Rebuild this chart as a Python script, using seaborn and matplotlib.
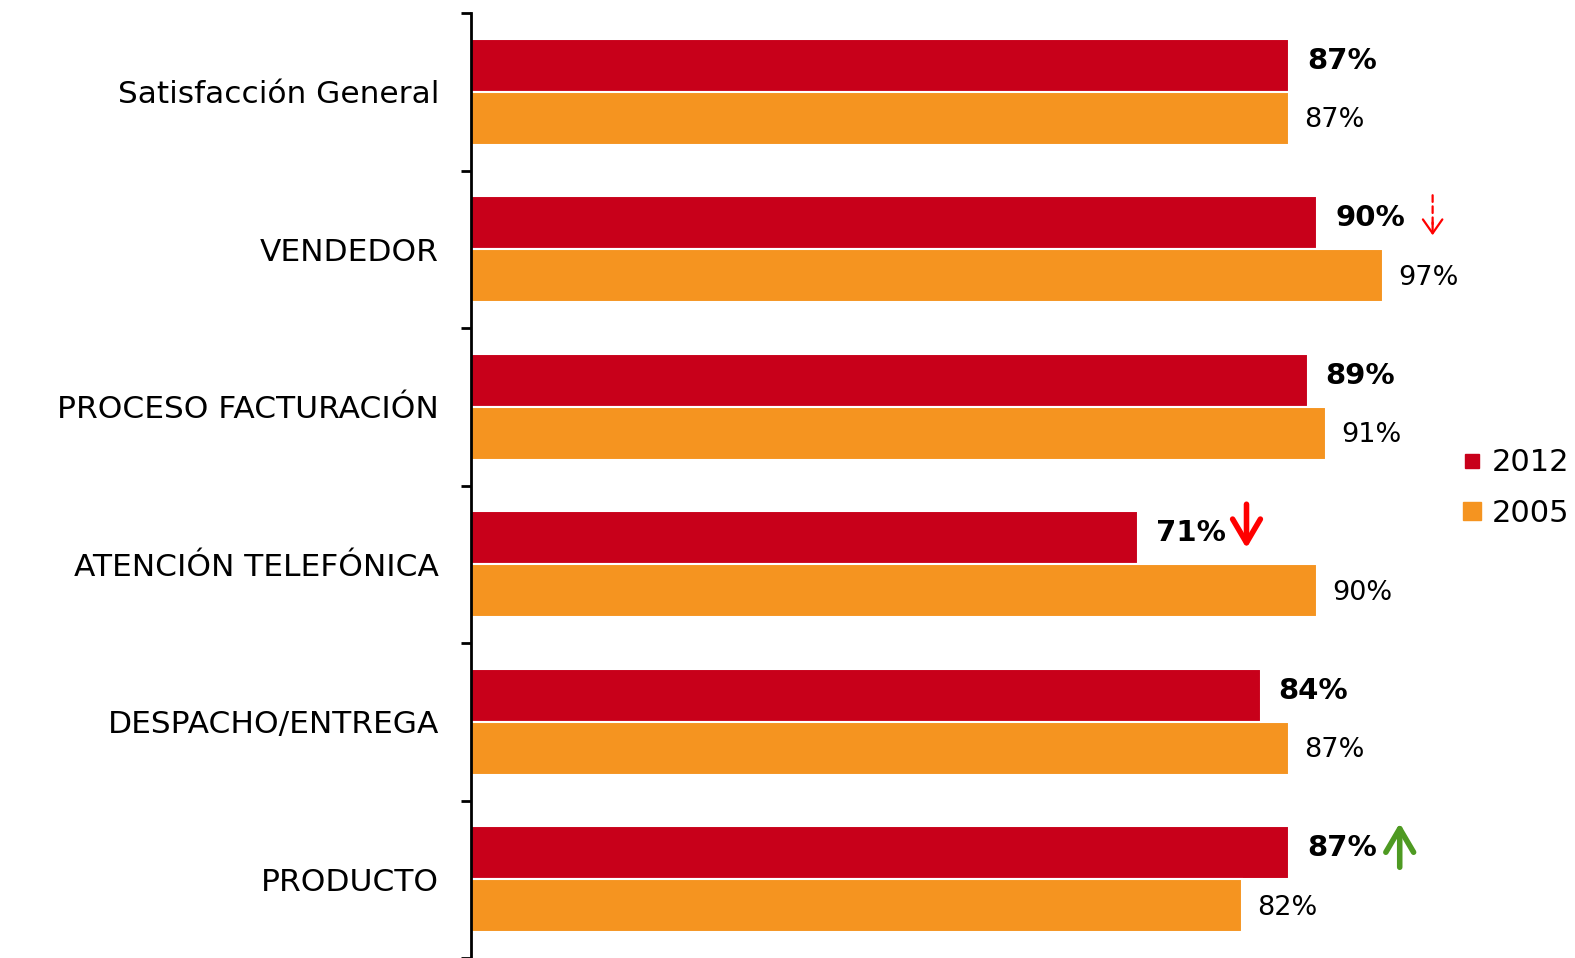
import matplotlib
matplotlib.use("Agg")
import matplotlib.pyplot as plt
from matplotlib.lines import Line2D
import seaborn as sns
import pandas as pd

categories = ["Satisfacción General", "VENDEDOR", "PROCESO FACTURACIÓN",
              "ATENCIÓN TELEFÓNICA", "DESPACHO/ENTREGA", "PRODUCTO"]
years = ["2012", "2005"]
values_2012 = [87, 90, 89, 71, 84, 87]
values_2005 = [87, 97, 91, 90, 87, 82]

RED = "#C8001A"
ORANGE = "#F59420"

df = pd.DataFrame({
    "category": categories * 2,
    "year": [years[0]] * len(categories) + [years[1]] * len(categories),
    "value": values_2012 + values_2005,
})

sns.set_theme(style="white")
plt.rcParams["font.family"] = ["DejaVu Sans"]

W, H = 1575, 958
fig = plt.figure(figsize=(W / 100, H / 100), dpi=100)
ax = fig.add_axes([471 / W, 0.0, (1411 - 471) / W, 1 - 13 / H])

sns.barplot(data=df, y="category", x="value", hue="year", orient="h",
            order=categories, hue_order=years, palette=[RED, ORANGE],
            saturation=1, width=0.67, edgecolor="white", linewidth=1.5,
            errorbar=None, legend=False, ax=ax)

ax.set_xlim(0, 100)
ax.set_ylim(len(categories) - 0.5, -0.5)
ax.set_xlabel("")
ax.set_ylabel("")
ax.set_xticks([])

# category labels at the centres, tick marks at the group boundaries
ax.tick_params(axis="y", which="major", length=0, pad=23, labelsize=22.5,
               labelcolor="black")
ax.set_yticks([i - 0.5 for i in range(len(categories) + 1)], minor=True)
ax.tick_params(axis="y", which="minor", length=7.5, width=2, color="black",
               direction="out", left=True)

for side in ["top", "right", "bottom"]:
    ax.spines[side].set_visible(False)
ax.spines["left"].set_color("black")
ax.spines["left"].set_linewidth(2)

# value labels: 2012 bold, 2005 regular
for bar in ax.containers[0]:
    w = bar.get_width()
    yc = bar.get_y() + bar.get_height() / 2
    ax.annotate(f"{w:.0f}%", xy=(w, yc), xytext=(13, 3.5),
                textcoords="offset points", ha="left", va="center",
                fontsize=21, fontweight="bold", color="black",
                annotation_clip=False)
for bar in ax.containers[1]:
    w = bar.get_width()
    yc = bar.get_y() + bar.get_height() / 2
    ax.annotate(f"{w:.0f}%", xy=(w, yc), xytext=(11, -1.5),
                textcoords="offset points", ha="left", va="center",
                fontsize=19.5, color="black", annotation_clip=False)

# trend arrows
# dashed shaft + open head (VENDEDOR)
ax.annotate("", xy=(102.3, 1 - 0.16), xytext=(102.3, 1 - 0.343),
            arrowprops=dict(arrowstyle="-", color="#FF0000", lw=1.6,
                            linestyle=(0, (3, 2)), shrinkA=0, shrinkB=0),
            annotation_clip=False)
ax.annotate("", xy=(102.3, 1 - 0.089), xytext=(102.3, 1 - 0.17),
            arrowprops=dict(arrowstyle="->,head_length=0.5,head_width=0.35",
                            color="#FF0000", lw=1.6, mutation_scale=20,
                            shrinkA=0, shrinkB=0),
            annotation_clip=False)
# solid red down arrow (ATENCIÓN TELEFÓNICA)
ax.annotate("", xy=(82.5, 3 - 0.102), xytext=(82.5, 3 - 0.381),
            arrowprops=dict(arrowstyle="->,head_length=0.85,head_width=0.5",
                            color="#FF0000", lw=4, mutation_scale=20,
                            shrinkA=0, shrinkB=0),
            annotation_clip=False)
# green up arrow (PRODUCTO)
ax.annotate("", xy=(98.8, 5 - 0.356), xytext=(98.8, 5 - 0.076),
            arrowprops=dict(arrowstyle="->,head_length=0.85,head_width=0.5",
                            color="#4E9A22", lw=4, mutation_scale=20,
                            shrinkA=0, shrinkB=0),
            annotation_clip=False)

# legend
handles = [
    Line2D([0], [0], marker="s", linestyle="none", markersize=9.5,
           markerfacecolor=RED, markeredgecolor=RED),
    Line2D([0], [0], marker="s", linestyle="none", markersize=13,
           markerfacecolor=ORANGE, markeredgecolor=ORANGE),
]
fig.legend(handles, years, loc="center left",
           bbox_to_anchor=(1463 / W, 1 - 488 / H), frameon=False,
           fontsize=22, handlelength=0.6, handletextpad=0.35,
           labelspacing=0.7, borderaxespad=0, borderpad=0,
           labelcolor="black")

fig.savefig("out.png", dpi=100, facecolor="white")
